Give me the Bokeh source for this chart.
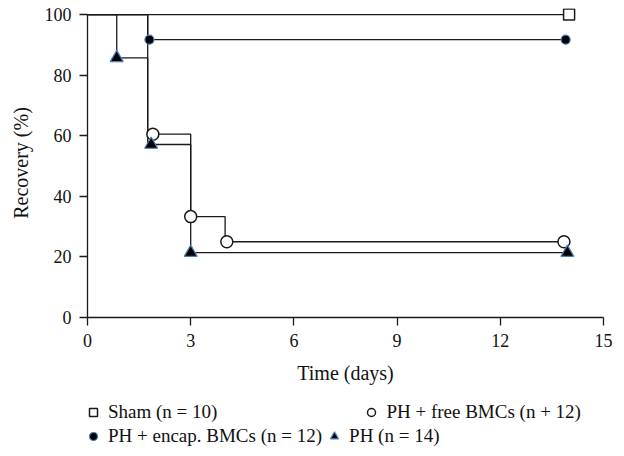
from bokeh.plotting import figure
from bokeh.layouts import column
from bokeh.models import Legend, LegendItem, Range1d, FixedTicker
from bokeh.embed import file_html
from bokeh.resources import INLINE

# ---- data (Kaplan-Meier style recovery curves) ----
sham_t = [0, 14]
sham_v = [100, 100]
sham_mt = [14]
sham_mv = [100]

encap_t = [0, 1.75, 14]
encap_v = [100, 91.7, 91.7]
encap_mt = [1.8, 13.9]
encap_mv = [91.7, 91.7]

free_t = [0, 1.75, 3, 4, 13.85]
free_v = [100, 60.5, 33.3, 25, 25]
free_mt = [1.9, 3.0, 4.05, 13.85]
free_mv = [60.5, 33.3, 25, 25]

ph_t = [0, 0.85, 1.75, 3, 13.95]
ph_v = [100, 85.7, 57.1, 21.4, 21.4]
ph_mt = [0.85, 1.85, 3.0, 13.95]
ph_mv = [85.7, 57.1, 21.4, 21.4]

x_ticks = [0, 3, 6, 9, 12, 15]
y_ticks = [0, 20, 40, 60, 80, 100]

labels = ["Sham (n = 10)", "PH + free BMCs (n + 12)",
          "PH + encap. BMCs (n = 12)", "PH (n = 14)"]

FONT = "Liberation Serif"
LINE = "#1a1a1a"
TXT = "#111111"
EDGE_BLUE = "#4a7ebb"

styles = {
    "sham": dict(marker="square", size=11, fill_color="white", line_color=LINE, line_width=1.5),
    "free": dict(marker="circle", size=12, fill_color="white", line_color=LINE, line_width=1.5),
    "encap": dict(marker="circle", size=9, fill_color="black", line_color=EDGE_BLUE, line_width=1.2),
    "ph": dict(marker="triangle", size=13, fill_color="black", line_color=EDGE_BLUE, line_width=1.2),
}

p = figure(frame_width=516, frame_height=309, output_backend="svg",
           toolbar_location=None, x_range=Range1d(0, 15), y_range=Range1d(0, 102),
           min_border_left=87, min_border_right=21, min_border_top=8,
           min_border_bottom=78)
p.outline_line_color = None
p.grid.visible = False

for ax in (p.xaxis[0], p.yaxis[0]):
    ax.axis_line_color = LINE
    ax.axis_line_width = 1.3
    ax.major_tick_line_color = LINE
    ax.major_tick_line_width = 1.3
    ax.minor_tick_line_color = None
    ax.major_tick_in = 0
    ax.major_tick_out = 8
    ax.major_label_text_font = FONT
    ax.major_label_text_font_size = "18px"
    ax.major_label_text_color = TXT
    ax.axis_label_text_font = FONT
    ax.axis_label_text_font_size = "20px"
    ax.axis_label_text_font_style = "normal"
    ax.axis_label_text_color = TXT

p.xaxis.ticker = FixedTicker(ticks=x_ticks)
p.yaxis.ticker = FixedTicker(ticks=y_ticks)
p.yaxis.bounds = (0, 100)
p.xaxis.axis_label = "Time (days)"
p.yaxis.axis_label = "Recovery (%)"
p.xaxis.major_label_standoff = 8
p.xaxis.axis_label_standoff = 12
p.yaxis.major_label_standoff = 8
p.yaxis.axis_label_standoff = 10

# step lines
for t, v in ((sham_t, sham_v), (encap_t, encap_v), (free_t, free_v), (ph_t, ph_v)):
    p.step(t, v, mode="after", line_color=LINE, line_width=1.3)

# markers
p.scatter(sham_mt, sham_mv, **styles["sham"])
p.scatter(free_mt, free_mv, **styles["free"])
p.scatter(encap_mt, encap_mv, **styles["encap"])
p.scatter(ph_mt, ph_mv, **styles["ph"])

# ---- legend strip below the chart (its frame is aligned with the chart's) ----
p2 = figure(width=624, height=61, output_backend="svg", toolbar_location=None,
            x_range=Range1d(0, 1), y_range=Range1d(0, 1),
            x_axis_location=None, y_axis_location=None,
            min_border_left=87, min_border_right=21, min_border_top=0,
            min_border_bottom=0)
p2.outline_line_color = None
p2.grid.visible = False

# legend proxies: same series, outside this strip's visible range
lr = {
    "sham": p2.scatter(sham_mt, sham_mv, **styles["sham"]),
    "free": p2.scatter(free_mt, free_mv, **styles["free"]),
    "encap": p2.scatter(encap_mt, encap_mv, **styles["encap"]),
    "ph": p2.scatter(ph_mt, ph_mv, **styles["ph"]),
}

def make_legend(items, spacing, loc):
    return Legend(items=items, orientation="horizontal", location=loc,
                  label_text_font=FONT, label_text_font_size="19px",
                  label_text_color=TXT, glyph_width=20, glyph_height=20,
                  label_standoff=5, spacing=spacing, padding=0, margin=0,
                  label_height=20, border_line_color=None,
                  background_fill_alpha=0)

lg1 = make_legend([LegendItem(label=labels[0], renderers=[lr["sham"]]),
                   LegendItem(label=labels[1], renderers=[lr["free"]])], 144, (-4, 33))
lg2 = make_legend([LegendItem(label=labels[2], renderers=[lr["encap"]]),
                   LegendItem(label=labels[3], renderers=[lr["ph"]])], 2, (-4, 9))
p2.add_layout(lg1, "center")
p2.add_layout(lg2, "center")

open("out.html", "w").write(file_html(column(p, p2, spacing=0), INLINE))
